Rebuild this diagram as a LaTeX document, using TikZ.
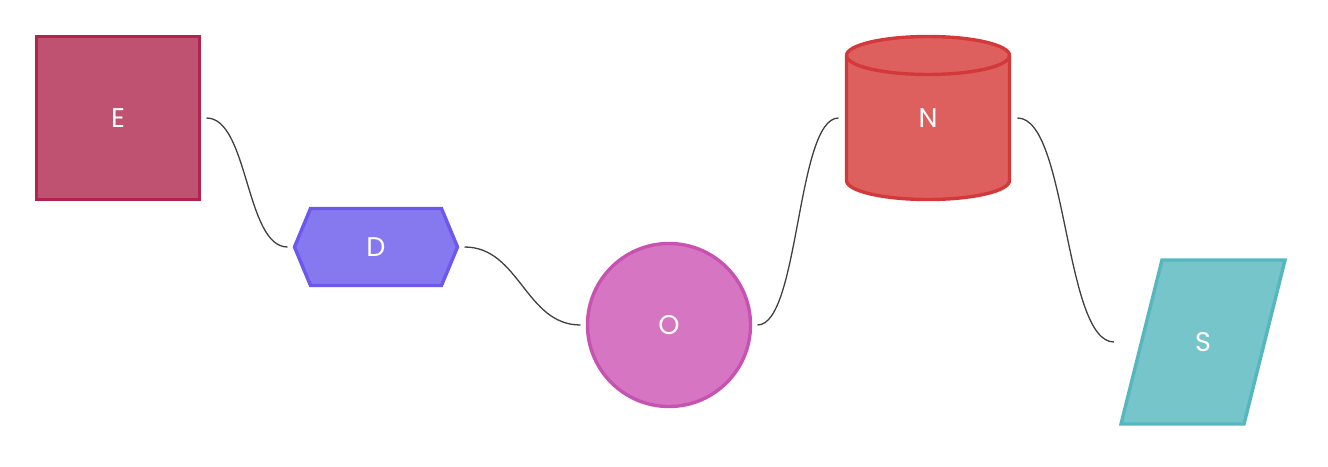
\documentclass[tikz,border=0pt]{standalone}
\usepackage{fontspec}
\setmainfont{Poppins}
\pgfdeclarelayer{bg}
\pgfsetlayers{bg,main}
\definecolor{efill}{HTML}{BF5270}\definecolor{edraw}{HTML}{B2234E}
\definecolor{dfill}{HTML}{8679F0}\definecolor{ddraw}{HTML}{6C58EC}
\definecolor{ofill}{HTML}{D676C3}\definecolor{odraw}{HTML}{C752B2}
\definecolor{nfill}{HTML}{DE605E}\definecolor{ndraw}{HTML}{D3393A}
\definecolor{sfill}{HTML}{76C5CB}\definecolor{sdraw}{HTML}{54B8BE}
\definecolor{linkc}{HTML}{404040}
\tikzset{
  lbl/.style={text=white, font=\fontsize{27}{31}\selectfont, outer sep=0pt, inner sep=0pt},
  shapeline/.style={line width=3.4pt, line join=miter},
  link/.style={draw=linkc, line width=1.3pt},
}
\begin{document}
\begin{tikzpicture}[x=1pt,y=-1pt]
\useasboundingbox (0,0) rectangle (1328,466);
% E
\node[lbl, rectangle, shapeline, draw=edraw, fill=efill, minimum width=163, minimum height=163] (E) at (118,118) {E};
% D hexagon
\node[lbl, rectangle, minimum width=163, minimum height=77] (D) at (376,247) {D};
\begin{pgfonlayer}{bg}
\path[shapeline, draw=ddraw, fill=dfill] (D.west) -- ([xshift=16]D.north west) -- ([xshift=-16]D.north east) -- (D.east) -- ([xshift=-16]D.south east) -- ([xshift=16]D.south west) -- cycle;
\end{pgfonlayer}
% O circle
\node[lbl, circle, shapeline, draw=odraw, fill=ofill, minimum size=163] (O) at (669,325) {O};
% N cylinder
\node[lbl, rectangle, minimum width=163, minimum height=165] (N) at (928,118) {N};
\begin{pgfonlayer}{bg}
\path[shapeline, draw=ndraw, fill=nfill] ([yshift=-20]N.north west) -- ([yshift=20]N.south west)
  arc[start angle=180, end angle=0, x radius=81.5, y radius=19] -- ([yshift=-20]N.north east)
  arc[start angle=0, end angle=-180, x radius=81.5, y radius=19] -- cycle;
\draw[shapeline, draw=ndraw] ([yshift=-20]N.north west) arc[start angle=180, end angle=0, x radius=81.5, y radius=19];
\end{pgfonlayer}
% S parallelogram
\node[lbl, rectangle, minimum width=164, minimum height=164] (S) at (1203,342) {S};
\begin{pgfonlayer}{bg}
\path[shapeline, draw=sdraw, fill=sfill] (S.south west) -- ([xshift=41]S.north west) -- (S.north east) -- ([xshift=-41]S.south east) -- cycle;
\end{pgfonlayer}
% links
\draw[link] ([xshift=7]E.east) .. controls +(42,0) and +(-42,0) .. ([xshift=-7]D.west);
\draw[link] ([xshift=7]D.east) .. controls +(55,0) and +(-55,0) .. ([xshift=-7]O.west);
\draw[link] ([xshift=7]O.east) .. controls +(42,0) and +(-42,0) .. ([xshift=-8]N.west);
\draw[link] ([xshift=8]N.east) .. controls +(50,0) and +(-50,0) .. ([xshift=-7]S.west);
\end{tikzpicture}
\end{document}
